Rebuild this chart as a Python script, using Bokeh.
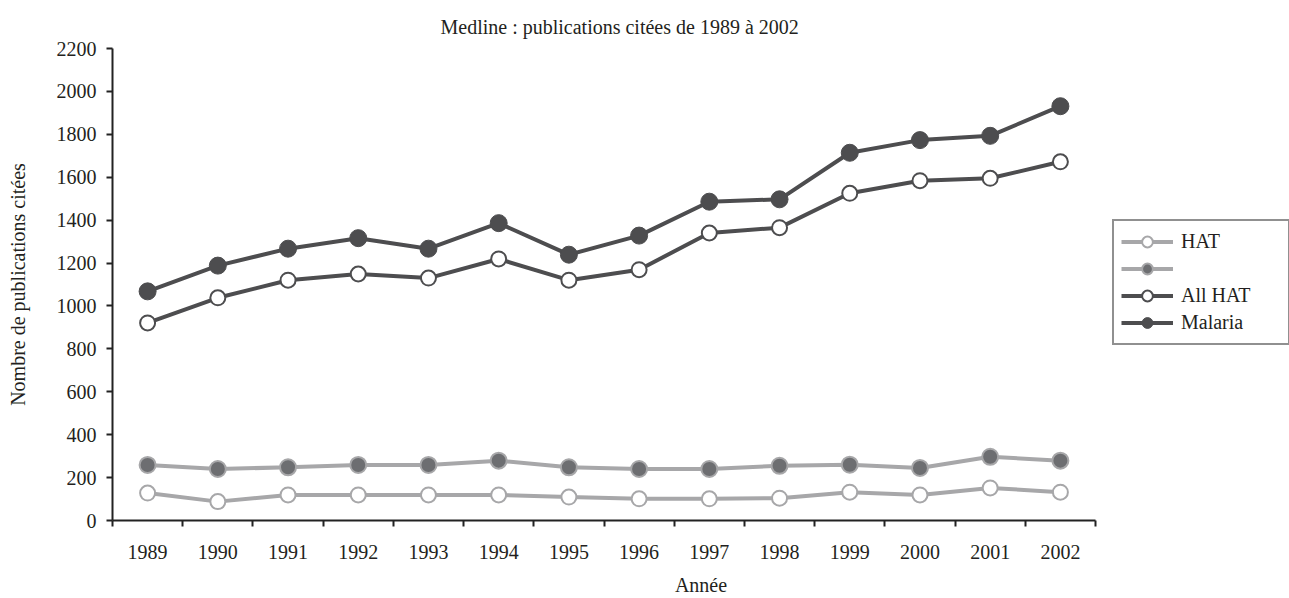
from bokeh.plotting import figure
from bokeh.models import (ColumnDataSource, Range1d, FixedTicker, Legend, LegendItem, Title)
from bokeh.core.properties import value
from bokeh.embed import file_html
from bokeh.resources import INLINE

# ---- data ----
years = ["1989", "1990", "1991", "1992", "1993", "1994", "1995",
         "1996", "1997", "1998", "1999", "2000", "2001", "2002"]
malaria = [1068, 1188, 1267, 1316, 1267, 1386, 1239, 1328, 1486, 1497, 1714, 1773, 1793, 1931]
all_hat = [921, 1038, 1120, 1149, 1130, 1219, 1120, 1169, 1340, 1365, 1525, 1584, 1595, 1672]
hat_other = [259, 240, 248, 259, 259, 279, 248, 240, 240, 255, 260, 245, 297, 279]
hat = [128, 88, 119, 119, 119, 119, 109, 101, 101, 104, 132, 119, 152, 132]
y_ticks = [0, 200, 400, 600, 800, 1000, 1200, 1400, 1600, 1800, 2000, 2200]

title_text = "Medline : publications citées de 1989 à 2002"
x_label = "Année"
y_label = "Nombre de publications citées"

# ---- layout (pixels) ----
W, H = 1289, 598
LEFT, TOP, BOTTOM = 112, 48, 76
AXIS_RIGHT = 1095          # where the category axis ends; legend lives to the right

n = len(years)
xs = [i + 0.5 for i in range(n)]          # slot centres
bounds = [i for i in range(n + 1)]         # slot boundaries
x_end = n * (W - LEFT) / (AXIS_RIGHT - LEFT)

FONT = "Liberation Serif"
TXT = "#231f20"
DARK = "#4d4d4f"
GRAY = "#a7a7a9"
GRAY_FILL = "#6d6e71"

src = ColumnDataSource(dict(x=xs, year=years, malaria=malaria, all_hat=all_hat,
                            hat_other=hat_other, hat=hat))

p = figure(width=W, height=H, output_backend="svg", toolbar_location=None,
           x_range=Range1d(0, x_end), y_range=Range1d(0, 2200),
           min_border_left=LEFT, min_border_right=0, min_border_top=TOP,
           min_border_bottom=BOTTOM, title=None)
p.outline_line_color = None
p.xgrid.visible = False
p.ygrid.visible = False
p.background_fill_color = "white"
p.border_fill_color = "white"

# axes
xa = p.below[0]
xa.bounds = (0, n)
xa.ticker = FixedTicker(ticks=xs, minor_ticks=bounds)
xa.major_label_overrides = {x: y for x, y in zip(xs, years)}
xa.major_tick_out = 0
xa.major_tick_in = 0
xa.minor_tick_out = 6
xa.minor_tick_in = 0
xa.minor_tick_line_color = "#222222"
xa.minor_tick_line_width = 2
xa.axis_line_color = "#222222"
xa.axis_line_width = 2
xa.major_label_standoff = 18
xa.major_label_text_font = FONT
xa.major_label_text_font_size = "20px"
xa.major_label_text_color = TXT
xa.axis_label = x_label
xa.axis_label_text_font = FONT
xa.axis_label_text_font_size = "20px"
xa.axis_label_text_font_style = "normal"
xa.axis_label_text_color = TXT
xa.axis_label_standoff = 12

ya = p.left[0]
ya.ticker = FixedTicker(ticks=y_ticks)
ya.major_tick_out = 6
ya.major_tick_in = 0
ya.minor_tick_out = 0
ya.minor_tick_in = 0
ya.major_tick_line_color = "#222222"
ya.major_tick_line_width = 2
ya.axis_line_color = "#222222"
ya.axis_line_width = 2
ya.major_label_standoff = 10
ya.major_label_text_font = FONT
ya.major_label_text_font_size = "20px"
ya.major_label_text_color = TXT
ya.axis_label = y_label
ya.axis_label_text_font = FONT
ya.axis_label_text_font_size = "20px"
ya.axis_label_text_font_style = "normal"
ya.axis_label_text_color = TXT
ya.axis_label_standoff = 25

title = Title(text=title_text, text_font=FONT, text_font_size="20px",
              text_font_style="normal", text_color=TXT, align="left",
              offset=328, standoff=22)
p.add_layout(title, "above")

# series
r_hat_l = p.line("x", "hat", source=src, line_color=GRAY, line_width=4)
r_hat_m = p.scatter("x", "hat", source=src, marker="circle", size=15,
                    fill_color="white", line_color=GRAY, line_width=2)
r_oth_l = p.line("x", "hat_other", source=src, line_color=GRAY, line_width=4)
r_oth_m = p.scatter("x", "hat_other", source=src, marker="circle", size=16,
                    fill_color=GRAY_FILL, line_color=GRAY, line_width=2)
r_all_l = p.line("x", "all_hat", source=src, line_color=DARK, line_width=4)
r_all_m = p.scatter("x", "all_hat", source=src, marker="circle", size=15,
                    fill_color="white", line_color=DARK, line_width=2)
r_mal_l = p.line("x", "malaria", source=src, line_color=DARK, line_width=4)
r_mal_m = p.scatter("x", "malaria", source=src, marker="circle", size=17,
                    fill_color=DARK, line_color=DARK, line_width=1)

legend = Legend(items=[
    LegendItem(label="HAT", renderers=[r_hat_l, r_hat_m]),
    LegendItem(label=value(""), renderers=[r_oth_l, r_oth_m]),
    LegendItem(label="All HAT", renderers=[r_all_l, r_all_m]),
    LegendItem(label="Malaria", renderers=[r_mal_l, r_mal_m]),
], location=(1000, 175), margin=0, padding=7, spacing=0,
    glyph_width=52, glyph_height=27, label_height=27, label_width=100,
    label_standoff=8, label_text_font=FONT, label_text_font_size="20px",
    label_text_color=TXT, border_line_color="#222222", border_line_width=2,
    background_fill_color="white", background_fill_alpha=1.0)
p.add_layout(legend, "center")

open("out.html", "w").write(file_html(p, INLINE))
